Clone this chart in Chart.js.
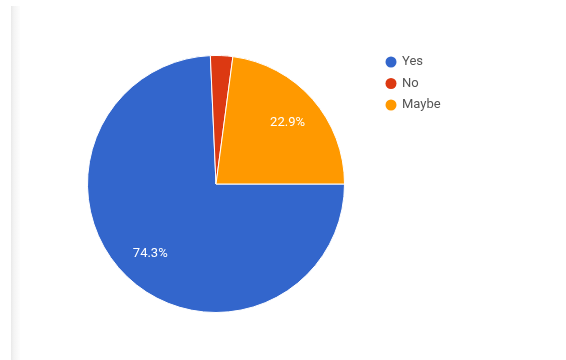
<!DOCTYPE html>
<html lang="en">
<head>
  <meta charset="UTF-8">
  <title>Responses</title>
  <script src="https://cdn.jsdelivr.net/npm/chart.js"></script>
  <style>
    html, body { margin: 0; padding: 0; background: #fff; }
    #wrap { position: relative; width: 566px; height: 360px; }
    #edge {
      position: absolute; left: 11px; top: 6px; width: 9px; bottom: 0;
      background: linear-gradient(to right, #e9e9e9, #f3f3f3 30%, #fdfdfd);
    }
  </style>
</head>
<body>
<div id="wrap">
  <div id="edge"></div>
  <canvas id="pieChart" width="566" height="360"></canvas>
</div>

<script>
  const answers = ['Yes', 'No', 'Maybe'];
  const shares = [74.3, 2.8, 22.9];
  const sliceColors = ['#3366cc', '#dc3912', '#ff9900'];

  // percentage text inside the bigger slices
  const sliceLabels = {
    id: 'sliceLabels',
    afterDatasetsDraw(chart) {
      const ctx = chart.ctx;
      const meta = chart.getDatasetMeta(0);
      ctx.save();
      ctx.fillStyle = '#ffffff';
      ctx.font = '13px Roboto, Arial, sans-serif';
      ctx.textAlign = 'center';
      ctx.textBaseline = 'middle';
      meta.data.forEach((arc, i) => {
        if (shares[i] < 5) return;
        const mid = (arc.startAngle + arc.endAngle) / 2;
        const r = arc.outerRadius * 0.74;
        ctx.fillText(shares[i].toFixed(1) + '%', arc.x + Math.cos(mid) * r, arc.y + Math.sin(mid) * r + 1);
      });
      ctx.restore();
    }
  };

  // legend at top right, dots and names
  const sideLegend = {
    id: 'sideLegend',
    afterDraw(chart) {
      const ctx = chart.ctx;
      ctx.save();
      ctx.font = '13px Roboto, Arial, sans-serif';
      ctx.textBaseline = 'middle';
      answers.forEach((name, i) => {
        const y = 62 + i * 21.5;
        ctx.fillStyle = sliceColors[i];
        ctx.beginPath();
        ctx.arc(391, y, 5.5, 0, Math.PI * 2);
        ctx.fill();
        ctx.fillStyle = '#555555';
        ctx.fillText(name, 402, y);
      });
      ctx.restore();
    }
  };

  new Chart(document.getElementById('pieChart'), {
    type: 'pie',
    data: {
      labels: answers,
      datasets: [{
        data: shares,
        backgroundColor: sliceColors,
        borderColor: '#ffffff',
        borderWidth: 1
      }]
    },
    options: {
      responsive: false,
      animation: false,
      rotation: 90,
      layout: { padding: { left: 87, right: 221, top: 55, bottom: 47 } },
      plugins: {
        legend: { display: false },
        tooltip: { enabled: false }
      }
    },
    plugins: [sliceLabels, sideLegend]
  });
</script>
</body>
</html>
